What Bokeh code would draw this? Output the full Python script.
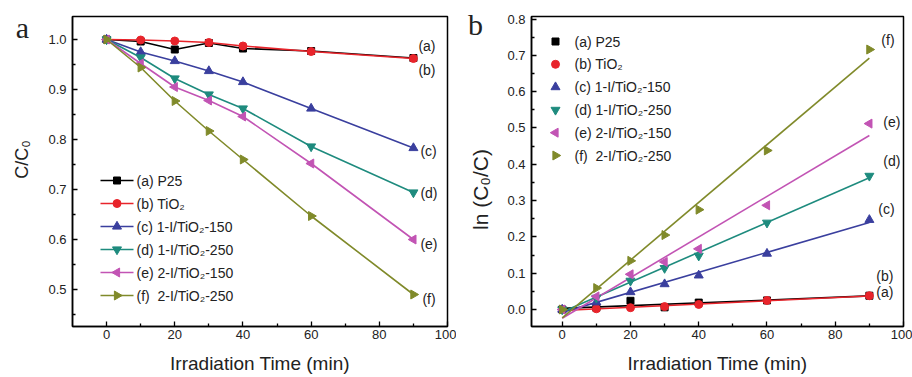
import numpy as np
from bokeh.plotting import figure
from bokeh.layouts import row
from bokeh.models import Range1d, FixedTicker, PrintfTickFormatter, Label
from bokeh.embed import file_html
from bokeh.resources import INLINE

# ---------------- data ----------------
time_min = [0, 10, 20, 30, 40, 60, 90]

series_names = ["(a) P25", "(b) TiO\u2082", "(c) 1-I/TiO\u2082-150", "(d) 1-I/TiO\u2082-250",
                "(e) 2-I/TiO\u2082-150", "(f) \u00a02-I/TiO\u2082-250"]
short_tags = ["(a)", "(b)", "(c)", "(d)", "(e)", "(f)"]

# C/C0 (panel a)
cc0_a = [1.000, 0.996, 0.980, 0.993, 0.982, 0.977, 0.963]
cc0_b = [1.000, 0.999, 0.997, 0.994, 0.987, 0.976, 0.962]
cc0_c = [1.000, 0.975, 0.957, 0.937, 0.915, 0.862, 0.783]
cc0_d = [1.000, 0.964, 0.922, 0.890, 0.862, 0.786, 0.694]
cc0_e = [1.000, 0.952, 0.905, 0.878, 0.846, 0.752, 0.600]
cc0_f = [1.000, 0.944, 0.877, 0.817, 0.760, 0.647, 0.490]

# ln(C0/C) (panel b)
ln_a = [0.000, 0.005, 0.024, 0.006, 0.019, 0.025, 0.038]
ln_b = [0.000, 0.002, 0.005, 0.008, 0.014, 0.025, 0.038]
ln_c = [0.000, 0.020, 0.048, 0.070, 0.094, 0.154, 0.247]
ln_d = [0.000, 0.032, 0.079, 0.114, 0.148, 0.239, 0.368]
ln_e = [0.000, 0.036, 0.097, 0.131, 0.167, 0.287, 0.512]
ln_f = [0.000, 0.059, 0.134, 0.205, 0.275, 0.438, 0.716]

x_major = [0, 20, 40, 60, 80, 100]
x_minor = [10, 30, 50, 70, 90]
ya_major = [0.5, 0.6, 0.7, 0.8, 0.9, 1.0]
ya_minor = [0.45, 0.55, 0.65, 0.75, 0.85, 0.95]
yb_major = [0.0, 0.1, 0.2, 0.3, 0.4, 0.5, 0.6, 0.7, 0.8]
yb_minor = [0.05, 0.15, 0.25, 0.35, 0.45, 0.55, 0.65, 0.75]

# ---------------- styles ----------------
colors = ["#000000", "#e8242b", "#3a3f9e", "#1e8b7e", "#c254b4", "#808a2a"]
markers = ["square", "circle", "triangle", "inverted_triangle", "triangle", "triangle"]
angles = [0, 0, 0, 0, np.pi / 2, -np.pi / 2]
sizes = [7, 8, 9, 9, 9, 9]
FONT = "Liberation Sans"
SERIF = "Liberation Serif"
TXT = "#222222"
TOP, BOTTOM = 16, 51


def style(p, ymaj, ymin):
    p.xgrid.visible = False
    p.ygrid.visible = False
    p.outline_line_color = "black"
    p.outline_line_width = 1.5
    p.background_fill_color = "white"
    p.border_fill_color = "white"
    p.xaxis.ticker = FixedTicker(ticks=x_major, minor_ticks=x_minor)
    p.yaxis.ticker = FixedTicker(ticks=ymaj, minor_ticks=ymin)
    p.yaxis.formatter = PrintfTickFormatter(format="%.1f")
    for ax in (p.xaxis[0], p.yaxis[0]):
        ax.axis_line_width = 1.5
        ax.major_tick_in = 5
        ax.major_tick_out = 0
        ax.minor_tick_in = 3
        ax.minor_tick_out = 0
        ax.major_tick_line_width = 1.3
        ax.minor_tick_line_width = 1.3
        ax.major_label_text_font = FONT
        ax.major_label_text_font_size = "13px"
        ax.major_label_text_color = TXT
        ax.axis_label_text_font = FONT
        ax.axis_label_text_font_size = "19px"
        ax.axis_label_text_font_style = "normal"
        ax.axis_label_text_color = TXT
    p.xaxis.major_label_standoff = 3
    p.yaxis.major_label_standoff = 6
    p.xaxis.axis_label_standoff = 11
    p.xaxis.axis_label = "Irradiation Time (min)"


def side_text(p, text, x, y, font, size, angle=0.0, baseline="middle"):
    # text drawn in canvas pixels, hosted in the left border panel (not clipped by the frame)
    p.add_layout(Label(x=x, y=y, x_units="canvas", y_units="canvas", text=text, text_font=font,
                       text_font_size=size, angle=angle, text_align="center",
                       text_baseline=baseline, text_color=TXT), "left")


def screen_to_data(fw, fh, xr, yr):
    def f(px, py):  # px, py measured from the frame's top-left corner
        return (xr[0] + px / fw * (xr[1] - xr[0]), yr[1] - py / fh * (yr[1] - yr[0]))
    return f


def manual_legend(p, conv, x_mark, x_line, x_text, y_first, pitch, with_lines):
    for i, name in enumerate(series_names):
        py = y_first + i * pitch
        xm, ym = conv(x_mark, py)
        if with_lines:
            xl0, _ = conv(x_line[0], py)
            xl1, _ = conv(x_line[1], py)
            p.line([xl0, xl1], [ym, ym], line_color=colors[i], line_width=1.6)
        p.scatter([xm], [ym], marker=markers[i], angle=angles[i], size=sizes[i],
                  fill_color=colors[i], line_color=colors[i])
        xt, _ = conv(x_text, py)
        p.add_layout(Label(x=xt, y=ym, text=name, text_font=FONT, text_font_size="14px",
                           text_baseline="middle", text_color=TXT))


# ---------------- panel a ----------------
A_FW, A_FH = 375, 310
A_XR, A_YR = (-10, 100), (0.426, 1.046)
p1 = figure(frame_width=A_FW, frame_height=A_FH, x_range=Range1d(*A_XR), y_range=Range1d(*A_YR),
            output_backend="svg", toolbar_location=None,
            min_border_left=72, min_border_right=9, min_border_top=TOP, min_border_bottom=BOTTOM)
style(p1, ya_major, ya_minor)

cc0_all = [cc0_a, cc0_b, cc0_c, cc0_d, cc0_e, cc0_f]
for i, ys in enumerate(cc0_all):
    p1.line(time_min, ys, line_color=colors[i], line_width=1.6)
    p1.scatter(time_min, ys, marker=markers[i], angle=angles[i], size=sizes[i],
               fill_color=colors[i], line_color=colors[i])

manual_legend(p1, screen_to_data(A_FW, A_FH, A_XR, A_YR), x_mark=44.5, x_line=(28, 61), x_text=64,
              y_first=164, pitch=23.0, with_lines=True)

offs_a = [(5, 12), (5, -11), (7, -3), (7, 0), (7, -4), (9, -4)]
for i, ys in enumerate(cc0_all):
    p1.add_layout(Label(x=time_min[-1], y=ys[-1], x_offset=offs_a[i][0], y_offset=offs_a[i][1],
                        text=short_tags[i], text_font=FONT, text_font_size="14px",
                        text_baseline="middle", text_color=TXT))

side_text(p1, "C/C\u2080", 21, 159, FONT, "18px", angle=np.pi / 2)
side_text(p1, "a", 22, 27, SERIF, "30px", baseline="alphabetic")

# ---------------- panel b ----------------
B_FW, B_FH = 372, 310
B_XR, B_YR = (-9, 100), (-0.0468, 0.807)
p2 = figure(frame_width=B_FW, frame_height=B_FH, x_range=Range1d(*B_XR), y_range=Range1d(*B_YR),
            output_backend="svg", toolbar_location=None,
            min_border_left=75, min_border_right=9, min_border_top=TOP, min_border_bottom=BOTTOM)
style(p2, yb_major, yb_minor)

ln_all = [ln_a, ln_b, ln_c, ln_d, ln_e, ln_f]
for i, ys in enumerate(ln_all):
    slope, icpt = np.polyfit(time_min, ys, 1)
    xf = [time_min[0], time_min[-1]]
    p2.line(xf, [icpt + slope * xf[0], icpt + slope * xf[1]], line_color=colors[i], line_width=1.6)
for i, ys in enumerate(ln_all):
    p2.scatter(time_min, ys, marker=markers[i], angle=angles[i], size=sizes[i],
               fill_color=colors[i], line_color=colors[i])

manual_legend(p2, screen_to_data(B_FW, B_FH, B_XR, B_YR), x_mark=24, x_line=None, x_text=43,
              y_first=25, pitch=22.8, with_lines=False)

offs_b = [(7, 4), (7, 20), (9, 11), (14, 15), (14, 2), (12, 10)]
for i, ys in enumerate(ln_all):
    p2.add_layout(Label(x=time_min[-1], y=ys[-1], x_offset=offs_b[i][0], y_offset=offs_b[i][1],
                        text=short_tags[i], text_font=FONT, text_font_size="14px",
                        text_baseline="middle", text_color=TXT))

side_text(p2, "ln (C\u2080/C)", 24, 189, FONT, "21px", angle=np.pi / 2)
side_text(p2, "b", 19, 24, SERIF, "30px", baseline="alphabetic")

layout = row(p1, p2)
open("out.html", "w").write(file_html(layout, INLINE))
